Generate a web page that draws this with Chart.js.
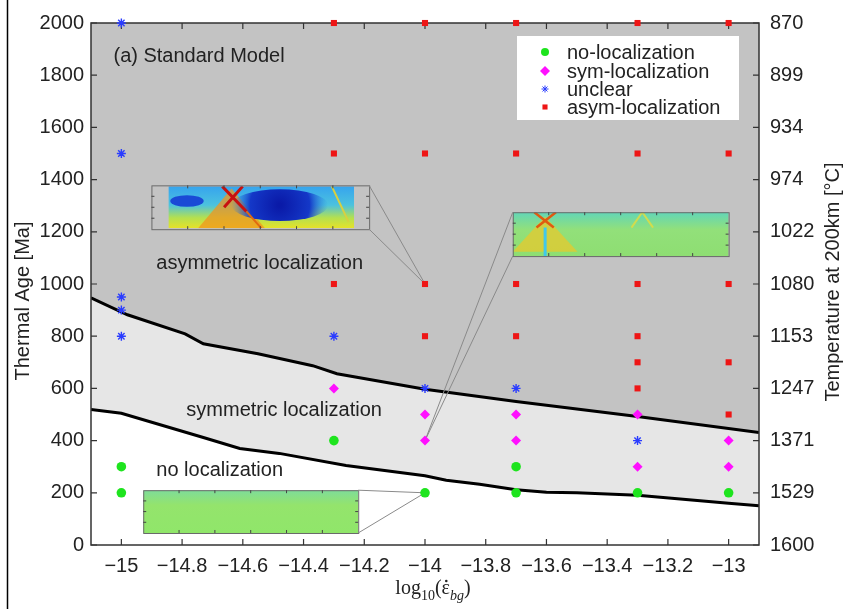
<!DOCTYPE html>
<html>
<head>
<meta charset="utf-8">
<script src="https://cdn.jsdelivr.net/npm/chart.js@4.4.1/dist/chart.umd.min.js"></script>
<style>
  html, body { margin: 0; padding: 0; background: #fff; }
  #wrap { width: 847px; height: 609px; position: relative; }
</style>
</head>
<body>
<div id="wrap"><canvas id="chart" width="847" height="609"></canvas></div>
<script>
// axis ticks
const xTicks = [-15, -14.8, -14.6, -14.4, -14.2, -14, -13.8, -13.6, -13.4, -13.2, -13];
const ageTicks = [0, 200, 400, 600, 800, 1000, 1200, 1400, 1600, 1800, 2000];
const tempLabels = ['1600', '1529', '1371', '1247', '1153', '1080', '1022', '974', '934', '899', '870'];

// model runs [log10 strain rate, thermal age]
const noLocalization = [[-15, 300], [-15, 200], [-14.3, 400], [-14, 200], [-13.7, 300], [-13.7, 200], [-13.3, 200], [-13, 200]];
const symLocalization = [[-14.3, 600], [-14, 500], [-14, 400], [-13.7, 500], [-13.7, 400], [-13.3, 500], [-13.3, 300], [-13, 400], [-13, 300]];
const unclear = [[-15, 2000], [-15, 1500], [-15, 950], [-15, 900], [-15, 800], [-14.3, 800], [-14, 600], [-13.7, 600], [-13.3, 400]];
const asymLocalization = [
  [-14.3, 2000], [-14, 2000], [-13.7, 2000], [-13.3, 2000], [-13, 2000],
  [-14.3, 1500], [-14, 1500], [-13.7, 1500], [-13.3, 1500], [-13, 1500],
  [-14.3, 1000], [-14, 1000], [-13.7, 1000], [-13.3, 1000], [-13, 1000],
  [-14, 800], [-13.7, 800], [-13.3, 800], [-13.3, 700], [-13, 700], [-13.3, 600], [-13, 500],
];

// regime boundaries
const asymBoundary = [[-15.1, 947], [-14.98, 882], [-14.79, 809], [-14.73, 771], [-14.55, 733], [-14.37, 687],
  [-14.29, 656], [-14.0, 597], [-13.7, 550], [-13.3, 492], [-12.9, 431]];
const symBoundary = [[-15.1, 519], [-15.0, 505], [-14.73, 412], [-14.61, 370], [-14.48, 351], [-14.26, 305],
  [-14.0, 265], [-13.93, 248], [-13.82, 233], [-13.7, 212], [-13.6, 202], [-13.5, 200], [-13.3, 191], [-13.0, 160], [-12.9, 150]];

const regionLabels = [
  { text: '(a) Standard Model', x: -15.026, y: 1870 },
  { text: 'asymmetric localization', x: -14.885, y: 1080 },
  { text: 'symmetric localization', x: -14.786, y: 515 },
  { text: 'no localization', x: -14.885, y: 286 },
];

const FONT = "'Liberation Sans', Arial, Helvetica, sans-serif";
const INK = '#222';

Chart.defaults.font.family = FONT;
Chart.defaults.font.size = 20;
Chart.defaults.color = INK;

const toXY = (arr) => arr.map(([x, y]) => ({ x, y }));

const series = [
  { label: 'no-localization', data: noLocalization, pointStyle: 'circle', color: '#1ee41e', radius: 4.8, legendRadius: 4 },
  { label: 'sym-localization', data: symLocalization, pointStyle: 'rectRot', color: '#ff10ff', radius: 5, legendRadius: 5 },
  { label: 'unclear', data: unclear, pointStyle: 'star', color: '#2a3cff', radius: 4.5, legendRadius: 3.5 },
  { label: 'asym-localization', data: asymLocalization, pointStyle: 'rect', color: '#ee1515', radius: 4.3, legendRadius: 3.6 },
];

const datasets = series.map((s) => ({
  type: 'scatter',
  label: s.label,
  data: toXY(s.data),
  pointStyle: s.pointStyle,
  pointRadius: s.radius,
  pointHoverRadius: s.radius,
  backgroundColor: s.color,
  borderColor: s.color,
  borderWidth: s.pointStyle === 'star' ? 1.4 : 0,
  clip: false,
}));

datasets.push({
  type: 'line',
  label: 'asym boundary',
  data: toXY(asymBoundary),
  borderColor: '#000',
  borderWidth: 3,
  pointRadius: 0,
  tension: 0,
  fill: 'end',
  backgroundColor: '#c3c3c3',
});
datasets.push({
  type: 'line',
  label: 'sym boundary',
  data: toXY(symBoundary),
  borderColor: '#000',
  borderWidth: 3,
  pointRadius: 0,
  tension: 0,
  fill: 'end',
  backgroundColor: '#e6e6e6',
});

function fmtX(v) {
  const r = Math.round(v * 10) / 10;
  return (r < 0 ? '\u2212' : '') + String(Math.abs(r));
}

// inset snapshots [x0, x1, y0 (top), y1 (bottom)] in data units + the run they show
const insets = [
  { box: [-14.901, -14.184, 1378, 1210], target: [-14, 1000], anchor: 'right', kind: 'asym' },
  { box: [-13.711, -13.0, 1275, 1107], target: [-14, 400], anchor: 'left', kind: 'sym' },
  { box: [-14.928, -14.22, 210, 46], target: [-14, 200], anchor: 'right', kind: 'none' },
];

function paintInset(ctx, kind, x0, y0, w, h) {
  ctx.save();
  ctx.beginPath();
  ctx.rect(x0, y0, w, h);
  ctx.clip();
  const P = (u, v) => [x0 + u * w, y0 + v * h];
  if (kind === 'asym') {
    let g = ctx.createLinearGradient(0, y0, 0, y0 + h);
    g.addColorStop(0, '#36a4ee');
    g.addColorStop(0.45, '#4cc2de');
    g.addColorStop(0.75, '#b4e050');
    g.addColorStop(1, '#e6e228');
    ctx.fillStyle = g;
    ctx.fillRect(x0, y0, w, h);
    // orange fan under the shear bands
    ctx.fillStyle = 'rgba(240,150,30,0.75)';
    ctx.beginPath();
    ctx.moveTo(...P(0.34, 0.05)); ctx.lineTo(...P(0.16, 1)); ctx.lineTo(...P(0.52, 1)); ctx.closePath();
    ctx.fill();
    // dark blue basin
    const [cx, cy] = P(0.6, 0.45);
    g = ctx.createRadialGradient(cx, cy, 2, cx, cy, w * 0.26);
    g.addColorStop(0, '#0a1aa8');
    g.addColorStop(0.6, '#1438c8');
    g.addColorStop(1, 'rgba(40,130,230,0)');
    ctx.fillStyle = g;
    ctx.beginPath();
    ctx.ellipse(cx, cy, w * 0.26, h * 0.38, 0, 0, Math.PI * 2);
    ctx.fill();
    ctx.fillStyle = '#1a4ad6';
    ctx.beginPath();
    ctx.ellipse(...P(0.1, 0.35), w * 0.09, h * 0.14, 0, 0, Math.PI * 2);
    ctx.fill();
    // red shear bands
    ctx.strokeStyle = '#c81010';
    ctx.lineWidth = 3;
    ctx.beginPath();
    ctx.moveTo(...P(0.29, 0)); ctx.lineTo(...P(0.42, 0.6));
    ctx.moveTo(...P(0.4, 0)); ctx.lineTo(...P(0.3, 0.5));
    ctx.stroke();
    ctx.strokeStyle = '#e06a10';
    ctx.lineWidth = 2;
    ctx.beginPath();
    ctx.moveTo(...P(0.42, 0.6)); ctx.lineTo(...P(0.5, 1));
    ctx.stroke();
    ctx.strokeStyle = '#d8d040';
    ctx.beginPath();
    ctx.moveTo(...P(0.88, 0)); ctx.lineTo(...P(0.97, 0.85));
    ctx.stroke();
  } else if (kind === 'sym') {
    let g = ctx.createLinearGradient(0, y0, 0, y0 + h);
    g.addColorStop(0, '#62d6b8');
    g.addColorStop(0.4, '#92e07a');
    g.addColorStop(1, '#8ede72');
    ctx.fillStyle = g;
    ctx.fillRect(x0, y0, w, h);
    ctx.fillStyle = 'rgba(236,200,40,0.7)';
    ctx.beginPath();
    ctx.moveTo(...P(0.15, 0.1)); ctx.lineTo(...P(0.0, 0.9)); ctx.lineTo(...P(0.3, 0.9)); ctx.closePath();
    ctx.fill();
    ctx.strokeStyle = '#40c8ea';
    ctx.lineWidth = 3;
    ctx.beginPath();
    ctx.moveTo(...P(0.15, 0.35)); ctx.lineTo(...P(0.15, 1));
    ctx.stroke();
    ctx.strokeStyle = '#e05a10';
    ctx.lineWidth = 2.5;
    ctx.beginPath();
    ctx.moveTo(...P(0.1, 0)); ctx.lineTo(...P(0.19, 0.35));
    ctx.moveTo(...P(0.2, 0)); ctx.lineTo(...P(0.11, 0.35));
    ctx.stroke();
    ctx.strokeStyle = 'rgba(230,220,60,0.8)';
    ctx.lineWidth = 2;
    ctx.beginPath();
    ctx.moveTo(...P(0.55, 0.35)); ctx.lineTo(...P(0.6, 0)); ctx.lineTo(...P(0.65, 0.35));
    ctx.stroke();
  } else {
    let g = ctx.createLinearGradient(0, y0, 0, y0 + h);
    g.addColorStop(0, '#7edc9a');
    g.addColorStop(0.35, '#94e46c');
    g.addColorStop(1, '#90e66a');
    ctx.fillStyle = g;
    ctx.fillRect(x0, y0, w, h);
  }
  ctx.restore();
}

function drawFrame(chart) {
  const { ctx, scales: { x, y }, chartArea: ca } = chart;
  ctx.save();
  ctx.strokeStyle = '#333';
  ctx.lineWidth = 1.5;
  ctx.strokeRect(ca.left, ca.top, ca.right - ca.left, ca.bottom - ca.top);
  // inward ticks
  ctx.lineWidth = 1.2;
  ctx.beginPath();
  xTicks.forEach((v) => {
    const px = x.getPixelForValue(v);
    ctx.moveTo(px, ca.bottom); ctx.lineTo(px, ca.bottom - 6);
    ctx.moveTo(px, ca.top); ctx.lineTo(px, ca.top + 6);
  });
  ageTicks.forEach((v) => {
    const py = y.getPixelForValue(v);
    ctx.moveTo(ca.left, py); ctx.lineTo(ca.left + 6, py);
    ctx.moveTo(ca.right, py); ctx.lineTo(ca.right - 6, py);
  });
  ctx.stroke();
  ctx.restore();
}

const decorPlugin = {
  id: 'decor',
  afterDatasetDraw(chart, args) {
    // after the upper boundary (last filled layer), before the markers
    if (args.index !== 4) return;
    const { ctx, scales: { x, y }, chartArea: ca } = chart;
    drawFrame(chart);
    ctx.save();

    // inset snapshots with leader lines
    insets.forEach((ins) => {
      const px0 = x.getPixelForValue(ins.box[0]);
      const px1 = x.getPixelForValue(ins.box[1]);
      const py0 = y.getPixelForValue(ins.box[2]);
      const py1 = y.getPixelForValue(ins.box[3]);
      const tx = x.getPixelForValue(ins.target[0]);
      const ty = y.getPixelForValue(ins.target[1]);
      const w = px1 - px0;
      const h = py1 - py0;
      if (ins.kind === 'asym') {
        ctx.fillStyle = '#c3c3c3';
        ctx.fillRect(px0, py0, w, h);
        paintInset(ctx, ins.kind, px0 + w * 0.078, py0 + 1, w * 0.853, h - 2);
      } else {
        paintInset(ctx, ins.kind, px0, py0, w, h);
      }
      ctx.strokeStyle = '#6a6a6a';
      ctx.lineWidth = 1;
      ctx.strokeRect(px0 + 0.5, py0 + 0.5, w, h);
      ctx.strokeStyle = '#444';
      for (let i = 1; i < 6; i++) {
        const tx0 = px0 + (w * i) / 6;
        ctx.beginPath();
        ctx.moveTo(tx0, py0); ctx.lineTo(tx0, py0 + 3);
        ctx.moveTo(tx0, py1); ctx.lineTo(tx0, py1 - 3);
        ctx.stroke();
      }
      for (let i = 1; i < 4; i++) {
        const ty0 = py0 + (h * i) / 4;
        ctx.beginPath();
        ctx.moveTo(px0, ty0); ctx.lineTo(px0 + 3, ty0);
        ctx.moveTo(px1, ty0); ctx.lineTo(px1 - 3, ty0);
        ctx.stroke();
      }
      const ex = ins.anchor === 'right' ? px1 : px0;
      ctx.strokeStyle = '#8a8a8a';
      ctx.beginPath();
      ctx.moveTo(ex, py0); ctx.lineTo(tx, ty);
      ctx.moveTo(ex, py1); ctx.lineTo(tx, ty);
      ctx.stroke();
    });

    // region labels
    ctx.fillStyle = INK;
    ctx.font = '20px ' + FONT;
    ctx.textAlign = 'left';
    ctx.textBaseline = 'middle';
    regionLabels.forEach((r) => {
      ctx.fillText(r.text, x.getPixelForValue(r.x), y.getPixelForValue(r.y));
    });

    // legend box
    const bx = ca.right - 242;
    const by = ca.top + 13;
    ctx.fillStyle = '#fff';
    ctx.fillRect(bx, by, 222, 84);
    const rows = [16, 35, 53, 71];
    series.forEach((s, i) => {
      const ry = by + rows[i];
      ctx.fillStyle = s.color;
      ctx.strokeStyle = s.color;
      Chart.helpers.drawPoint(ctx, {
        pointStyle: s.pointStyle, rotation: 0, radius: s.legendRadius,
        borderWidth: s.pointStyle === 'star' ? 1.2 : 0,
      }, bx + 28, ry);
      ctx.fillStyle = INK;
      ctx.fillText(s.label, bx + 50, ry + 1);
    });
    ctx.restore();
  },
  afterDraw(chart) {
    const { ctx, chartArea: ca } = chart;
    ctx.save();
    // axis titles
    ctx.fillStyle = INK;
    ctx.font = '20px ' + FONT;
    ctx.textAlign = 'center';
    ctx.textBaseline = 'middle';
    ctx.save();
    ctx.translate(23, (ca.top + ca.bottom) / 2 + 17);
    ctx.rotate(-Math.PI / 2);
    ctx.fillText('Thermal Age [Ma]', 0, 0);
    ctx.restore();
    ctx.save();
    ctx.translate(833, 282);
    ctx.rotate(-Math.PI / 2);
    ctx.fillText('Temperature at 200km [\u00B0C]', 0, 0);
    ctx.restore();

    // x title: log10(ε̇_bg)
    const serif = "'Liberation Serif', 'Times New Roman', serif";
    const parts = [
      { t: 'log', f: '20px ' + serif, dy: 0 },
      { t: '10', f: '14px ' + serif, dy: 6 },
      { t: '(', f: '20px ' + serif, dy: 0 },
      { t: '\u03B5', f: '20px ' + serif, dy: 0, dot: true },
      { t: 'bg', f: 'italic 14px ' + serif, dy: 6 },
      { t: ')', f: '20px ' + serif, dy: 0 },
    ];
    ctx.textAlign = 'left';
    ctx.textBaseline = 'alphabetic';
    let total = 0;
    parts.forEach((p) => { ctx.font = p.f; p.w = ctx.measureText(p.t).width; total += p.w; });
    let cx = 433 - total / 2;
    const base = 594;
    parts.forEach((p) => {
      ctx.font = p.f;
      ctx.fillText(p.t, cx, base + p.dy);
      if (p.dot) {
        ctx.beginPath();
        ctx.arc(cx + p.w / 2 + 0.5, base - 13, 1.3, 0, Math.PI * 2);
        ctx.fill();
      }
      cx += p.w;
    });

    // page edge line
    ctx.strokeStyle = '#000';
    ctx.lineWidth = 1.5;
    ctx.beginPath();
    ctx.moveTo(7.5, 0); ctx.lineTo(7.5, 609);
    ctx.stroke();
    ctx.restore();
  },
};

const setTicks = (values) => (scale) => { scale.ticks = values.map((value) => ({ value })); };

new Chart(document.getElementById('chart'), {
  type: 'scatter',
  data: { datasets },
  options: {
    responsive: false,
    devicePixelRatio: 1,
    animation: false,
    events: [],
    layout: { padding: { top: 21, left: 0, right: 0, bottom: 0 } },
    plugins: {
      legend: { display: false },
      tooltip: { enabled: false },
    },
    scales: {
      x: {
        type: 'linear',
        min: -15.1,
        max: -12.9,
        afterBuildTicks: setTicks(xTicks),
        afterFit: (s) => { s.height = 64; },
        grid: { display: false, drawTicks: false },
        border: { display: false },
        ticks: { callback: fmtX, padding: 9, maxRotation: 0, autoSkip: false, color: INK },
      },
      y: {
        position: 'left',
        min: 0,
        max: 2000,
        afterBuildTicks: setTicks(ageTicks),
        afterFit: (s) => { s.width = 91; },
        grid: { display: false, drawTicks: false },
        border: { display: false },
        ticks: { padding: 7, color: INK, callback: (v) => String(v) },
      },
      y2: {
        position: 'right',
        min: 0,
        max: 2000,
        afterBuildTicks: setTicks(ageTicks),
        afterFit: (s) => { s.width = 88; },
        grid: { display: false, drawTicks: false },
        border: { display: false },
        ticks: { padding: 11, color: INK, callback: (v) => tempLabels[ageTicks.indexOf(v)] },
      },
    },
  },
  plugins: [decorPlugin],
});
</script>
</body>
</html>
